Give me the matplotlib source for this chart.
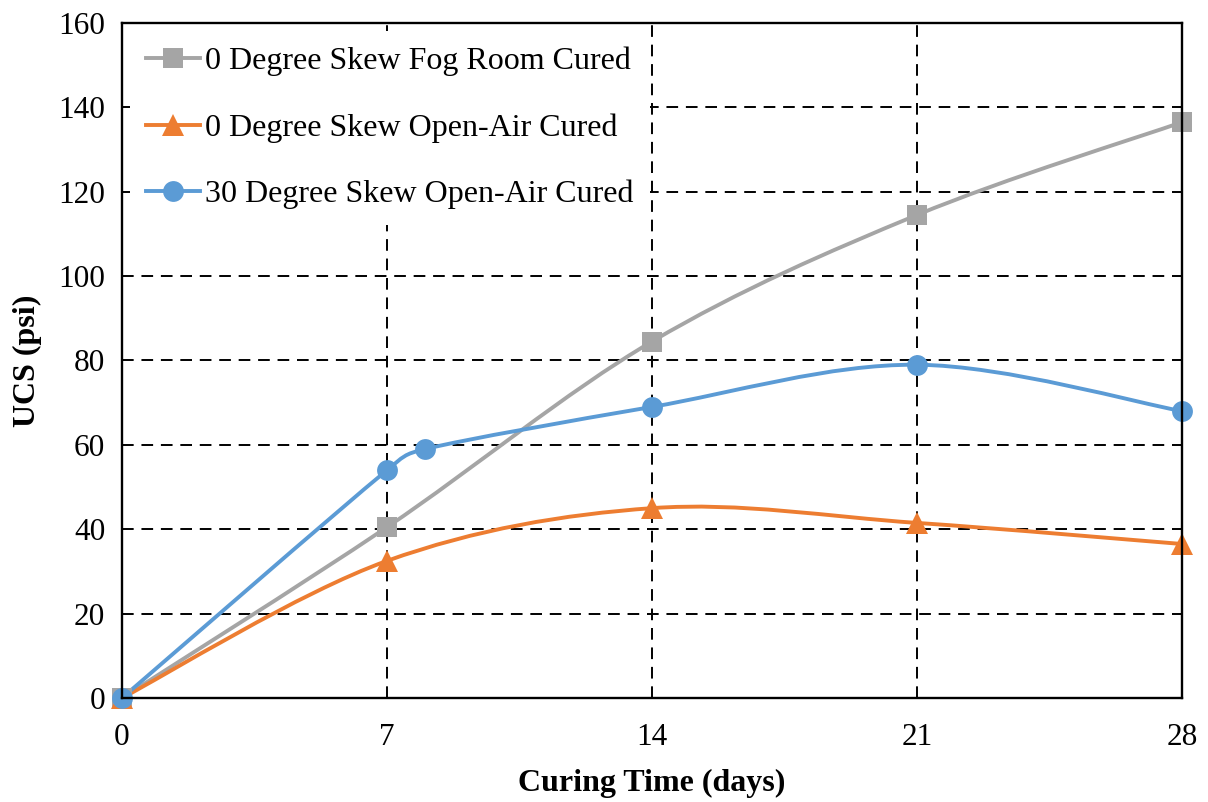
import matplotlib
matplotlib.use("Agg")
import matplotlib.pyplot as plt
from matplotlib.path import Path
from matplotlib.patches import PathPatch
from matplotlib.lines import Line2D
import numpy as np

plt.rcParams['font.family'] = ['Liberation Serif', 'DejaVu Serif']

# Data
fog_x = [0, 7, 14, 21, 28]
fog_y = [0, 40.5, 84.5, 114.5, 136.5]
oa0_x = [0, 7, 14, 21, 28]
oa0_y = [0, 32.5, 45.0, 41.5, 36.5]
oa30_x = [0, 7, 8, 14, 21, 28]
oa30_y = [0, 54.0, 59.0, 69.0, 79.0, 68.0]

labels = ["0 Degree Skew Fog Room Cured",
          "0 Degree Skew Open-Air Cured",
          "30 Degree Skew Open-Air Cured"]
colors = ["#A5A5A5", "#ED7D31", "#5B9BD5"]
markers = ["s", "^", "o"]
msizes = [14, 16, 15]

x_ticks = [0, 7, 14, 21, 28]
y_ticks = [0, 20, 40, 60, 80, 100, 120, 140, 160]


def excel_smooth_path(ax, xs, ys):
    """Excel-like smoothed Bezier through the points (control points
    computed in display space to limit overshoot)."""
    data = np.column_stack([xs, ys]).astype(float)
    disp = ax.transData.transform(data)
    n = len(data)
    verts = [tuple(disp[0])]
    codes = [Path.MOVETO]
    for i in range(n - 1):
        p0 = disp[i - 1] if i > 0 else disp[i]
        p1 = disp[i]
        p2 = disp[i + 1]
        p3 = disp[i + 2] if i + 2 < n else disp[i + 1]
        d02 = np.linalg.norm(p2 - p0)
        d12 = np.linalg.norm(p2 - p1)
        d13 = np.linalg.norm(p3 - p1)
        f0 = 1 / 6 if (d02 / 6 < d12 / 2 or d02 == 0) else d12 / (2 * d02)
        f1 = 1 / 6 if (d13 / 6 < d12 / 2 or d13 == 0) else d12 / (2 * d13)
        c1 = p1 + (p2 - p0) * f0
        c2 = p2 - (p3 - p1) * f1
        verts += [tuple(c1), tuple(c2), tuple(p2)]
        codes += [Path.CURVE4] * 3
    inv = ax.transData.inverted()
    verts = inv.transform(np.array(verts))
    return Path(verts, codes)


fig = plt.figure(figsize=(12.08, 8.02), dpi=100)
ax = fig.add_axes([0.101, 0.1297, 0.8775, 0.8416])
ax.set_xlim(0, 28)
ax.set_ylim(0, 160)

series = [(fog_x, fog_y), (oa0_x, oa0_y), (oa30_x, oa30_y)]
handles = []
for (xs, ys), lab, c, m, ms in zip(series, labels, colors, markers, msizes):
    patch = PathPatch(excel_smooth_path(ax, xs, ys), facecolor='none',
                      edgecolor=c, lw=2.8, zorder=3, clip_on=False,
                      capstyle='round', joinstyle='round')
    ax.add_patch(patch)
    ax.plot(xs, ys, linestyle='none', marker=m, color=c, markersize=ms,
            markeredgewidth=0, zorder=4, clip_on=False)
    handles.append(Line2D([], [], color=c, lw=2.8, marker=m, markersize=ms,
                          markeredgewidth=0))

ax.set_xticks(x_ticks)
ax.set_yticks(y_ticks)
ax.tick_params(length=0, labelsize=22.5)
ax.tick_params(axis='x', pad=18)
ax.tick_params(axis='y', pad=12)
ax.grid(True, color='black', linestyle=(0, (6, 4)), lw=1.4, zorder=1)
ax.set_axisbelow(True)
for s in ax.spines.values():
    s.set_linewidth(1.7)
    s.set_color('black')
    s.set_zorder(5)

ax.set_xlabel("Curing Time (days)", fontsize=23, fontweight='bold', labelpad=12)
ax.set_ylabel("UCS (psi)", fontsize=23, fontweight='bold', labelpad=12)

leg = ax.legend(handles, labels, loc='upper left', fontsize=23,
                frameon=True, framealpha=1, facecolor='white', edgecolor='none',
                handlelength=1.7, handletextpad=0.15, labelspacing=1.15,
                borderaxespad=0.25, borderpad=0.5, fancybox=False)
leg.set_zorder(6)

fig.savefig("out.png", dpi=100)
